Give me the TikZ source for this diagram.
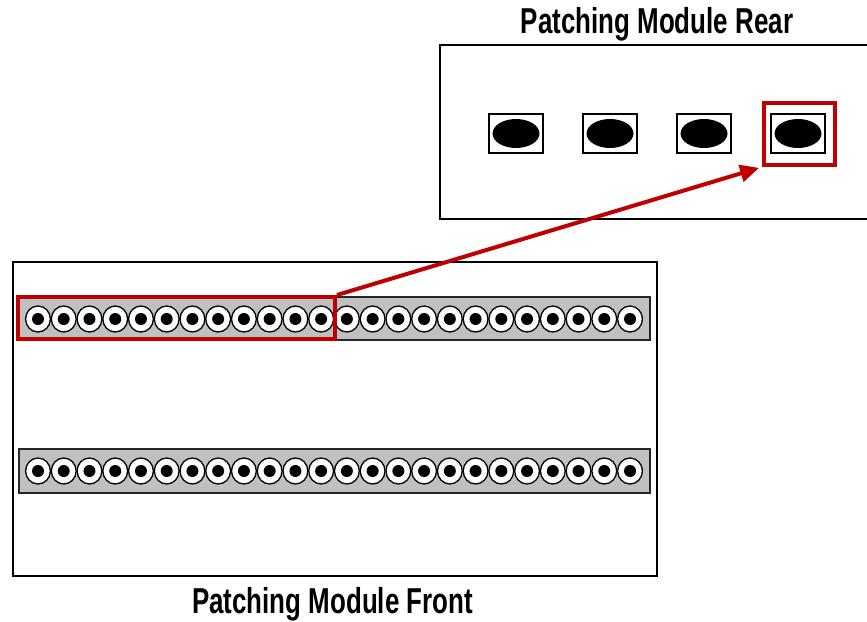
\documentclass[tikz,border=0pt]{standalone}
\usepackage{fontspec}
\setmainfont{Liberation Sans}[FakeStretch=0.72]
\usetikzlibrary{arrows.meta}
\definecolor{selred}{RGB}{192,0,0}
\definecolor{stripgray}{RGB}{192,192,192}
\begin{document}
\begin{tikzpicture}[x=1pt,y=-1pt,
  panel/.style={draw=black,line width=1.5pt,fill=white,rectangle,inner sep=0pt},
  strip/.style={draw=black!85,line width=1.5pt,fill=stripgray,rectangle,inner sep=0pt},
  jack/.style={draw=black,line width=1.3pt,fill=white},
  pin/.style={fill=black},
  portbox/.style={draw=black,line width=1.2pt,fill=white,rectangle,inner sep=0pt,minimum width=54pt,minimum height=39pt},
  portpin/.style={fill=black},
  selbox/.style={draw=selred,line width=4pt,rectangle,inner sep=0pt},
  title/.style={font=\bfseries\fontsize{36}{42}\selectfont,inner sep=0pt,anchor=base}]
\clip (0,0) rectangle (867,621);
\fill[white] (0,0) rectangle (867,621);
% rear panel
\node[panel,minimum width=460pt,minimum height=174pt] (rear) at (670,132) {};
\foreach \x [count=\k] in {516,610,704,798}{
  \node[portbox] (port\k) at (\x,133.5) {};
  \fill[portpin] (port\k.center) ellipse [x radius=23.5pt, y radius=14.5pt];
}
% front panel
\node[panel,minimum width=644pt,minimum height=314pt] (front) at (335,419) {};
\node[strip,minimum width=631pt,minimum height=43pt] (stripA) at (334.5,318.5) {};
\node[strip,minimum width=631pt,minimum height=44pt] (stripB) at (334.5,471) {};
\foreach \y in {319,471}{
  \foreach \i in {0,...,23}{
    \draw[jack] (38+25.74*\i,\y) ellipse [x radius=12.4pt, y radius=13pt];
    \fill[pin] (38+25.74*\i,\y) circle [radius=6pt];
  }
}
% selections
\node[selbox,minimum width=317pt,minimum height=42pt] (selfront) at (176.5,318) {};
\node[selbox,minimum width=71pt,minimum height=62pt] (selrear) at (799.5,134) {};
\draw[selred,line width=4pt,-{Triangle[length=19pt,width=17pt]},shorten >=3pt] (selfront.north east) -- (selrear.south west);
% titles
\node[title] (reartitle) at (657,33) {Patching Module Rear};
\node[title] (fronttitle) at (332.5,613) {Patching Module Front};
\end{tikzpicture}
\end{document}
